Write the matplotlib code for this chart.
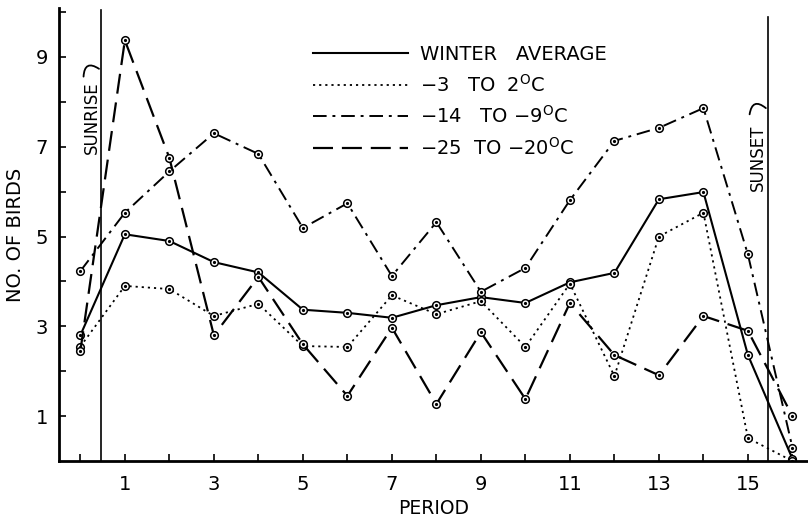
import matplotlib
matplotlib.use('Agg')
import matplotlib.pyplot as plt

plt.rcParams['font.family'] = ['DejaVu Sans']

# values (number of birds per period)
periods = list(range(0, 17))
winter_avg = [2.8, 5.05, 4.9, 4.43, 4.2, 3.37, 3.3, 3.19, 3.47, 3.65, 3.52, 3.98, 4.19, 5.83, 5.99, 2.36, 0.05]
warm = [2.55, 3.9, 3.83, 3.23, 3.5, 2.56, 2.54, 3.69, 3.27, 3.56, 2.54, 3.95, 1.89, 5.0, 5.53, 0.51, 0.0]
mid = [4.23, 5.53, 6.45, 7.3, 6.84, 5.19, 5.74, 4.12, 5.32, 3.77, 4.3, 5.81, 7.13, 7.42, 7.86, 4.6, 0.3]
cold = [2.45, 9.37, 6.75, 2.8, 4.1, 2.6, 1.45, 2.97, 1.27, 2.87, 1.38, 3.52, 2.36, 1.91, 3.23, 2.9, 1.0]

labels = ['WINTER   AVERAGE',
          '\u22123   TO  2$^\\mathregular{O}$C',
          '\u221214   TO \u22129$^\\mathregular{O}$C',
          '\u221225  TO \u221220$^\\mathregular{O}$C']
sunrise = 0.47
sunset = 15.45

fig = plt.figure(figsize=(8.08, 5.19), dpi=100)
ax = fig.add_axes([59 / 808, 1 - 461 / 519, 1 - 59 / 808, (461 - 8) / 519])

styles = [
    dict(linestyle='-', lw=1.5),
    dict(linestyle=(0, (1.2, 2.2)), lw=1.3),
    dict(linestyle=(0, (7, 3, 1.5, 3)), lw=1.4),
    dict(linestyle=(0, (9, 4)), lw=1.6),
]
series = [winter_avg, warm, mid, cold]
handles = []
for vals, st, lab in zip(series, styles, labels):
    h, = ax.plot(periods, vals, color='black', marker='o', ms=5.5, mfc='white',
                 mec='black', mew=1.1, label=lab, **st)
    ax.plot(periods, vals, linestyle='none', marker='o', ms=1.3, color='black')
    handles.append(h)

# sunrise / sunset markers
ax.axvline(sunrise, ymax=0.995, color='black', lw=1.2)
ax.axvline(sunset, ymax=0.98, color='black', lw=1.2)
ax.text(sunrise - 0.02, 7.65, 'SUNRISE', rotation=90, ha='right', va='center', fontsize=12)
ax.text(sunset - 0.02, 6.75, 'SUNSET', rotation=90, ha='right', va='center', fontsize=12)
# little hooks pointing at the lines
ax.annotate('', xy=(sunrise, 8.7), xytext=(sunrise - 0.4, 8.5),
            arrowprops=dict(arrowstyle='-', color='black', lw=1.3,
                            connectionstyle='arc3,rad=-1.0'))
ax.annotate('', xy=(sunset, 7.82), xytext=(sunset - 0.42, 7.66),
            arrowprops=dict(arrowstyle='-', color='black', lw=1.3,
                            connectionstyle='arc3,rad=-1.0'))

ax.set_xlim(-0.48, 16.35)
ax.set_ylim(0, 10.09)
ax.set_xticks(range(0, 17))
ax.set_xticklabels([str(p) if p % 2 == 1 else '' for p in range(0, 17)])
ax.set_yticks(range(1, 11))
ax.set_yticklabels([str(v) if v % 2 == 1 else '' for v in range(1, 11)])
ax.tick_params(direction='in', length=5, width=1.2, labelsize=14, colors='black')
ax.tick_params(axis='x', pad=10)
ax.tick_params(axis='y', pad=8)

for s in ['top', 'right']:
    ax.spines[s].set_visible(False)
for s in ['left', 'bottom']:
    ax.spines[s].set_linewidth(2)

ax.set_xlabel('PERIOD', fontsize=13.5)
ax.set_ylabel('NO. OF BIRDS', fontsize=14, va='center')
ax.yaxis.set_label_coords(-0.058, 0.5)
ax.xaxis.set_label_coords(0.5, -0.084)

leg = ax.legend(handles=handles, labels=labels, loc='upper left',
                bbox_to_anchor=(313 / 808, 1 - 45 / 519), bbox_transform=fig.transFigure,
                frameon=False, fontsize=14, handlelength=4.9, handletextpad=0.6,
                labelspacing=0.5, borderpad=0, borderaxespad=0, markerscale=0)
for line in leg.get_lines():
    line.set_marker('')

fig.savefig('out.png', dpi=100)
